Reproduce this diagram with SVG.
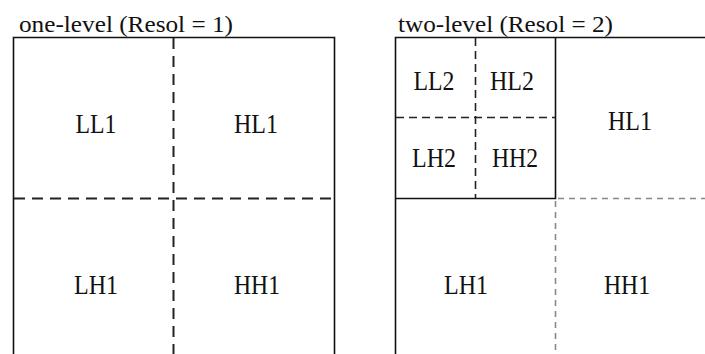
<svg xmlns="http://www.w3.org/2000/svg" width="705" height="354" viewBox="0 0 705 354">
  <style>
    .title { font-family: "Liberation Serif", "Times New Roman", serif; font-size: 23px; fill: #111; }
    .label { font-family: "Liberation Serif", "Times New Roman", serif; font-size: 28px; fill: #111; text-anchor: middle; }
    .solid { stroke: #111; stroke-width: 1.6; fill: none; }
    .dash { stroke: #222; stroke-width: 2; fill: none; stroke-dasharray: 11 7; }
    .dash-small { stroke: #222; stroke-width: 1.6; fill: none; stroke-dasharray: 8 5; }
    .dash-grey { stroke: #888; stroke-width: 1.6; fill: none; stroke-dasharray: 6 5; }
  </style>
  <rect width="705" height="354" fill="#fff"/>

  <!-- one-level decomposition -->
  <g id="one-level">
    <text class="title" x="19" y="32" textLength="214" lengthAdjust="spacingAndGlyphs">one-level (Resol = 1)</text>
    <path class="solid" d="M13.5 354 V37.5 H334.5 V354"/>
    <line class="dash" x1="173.5" y1="38" x2="173.5" y2="354"/>
    <line class="dash" x1="14" y1="198.5" x2="334" y2="198.5"/>
    <g id="ll1"><text class="label" x="96" y="133" textLength="41" lengthAdjust="spacingAndGlyphs">LL1</text></g>
    <g id="hl1a"><text class="label" x="256" y="133" textLength="44" lengthAdjust="spacingAndGlyphs">HL1</text></g>
    <g id="lh1a"><text class="label" x="96" y="294" textLength="44" lengthAdjust="spacingAndGlyphs">LH1</text></g>
    <g id="hh1a"><text class="label" x="257" y="294" textLength="46" lengthAdjust="spacingAndGlyphs">HH1</text></g>
  </g>

  <!-- two-level decomposition -->
  <g id="two-level">
    <text class="title" x="398" y="32" textLength="215" lengthAdjust="spacingAndGlyphs">two-level (Resol = 2)</text>
    <path class="solid" d="M395.5 354 V37.5 H705"/>
    <path class="solid" d="M395.5 198.5 H555.5 V37.5"/>
    <line class="dash-small" x1="475.5" y1="38" x2="475.5" y2="198"/>
    <line class="dash-small" x1="396" y1="117.5" x2="555" y2="117.5"/>
    <line class="dash-grey" x1="558" y1="198.5" x2="705" y2="198.5"/>
    <line class="dash-grey" x1="555.5" y1="201" x2="555.5" y2="354"/>
    <g id="ll2"><text class="label" x="434" y="90" textLength="41" lengthAdjust="spacingAndGlyphs">LL2</text></g>
    <g id="hl2"><text class="label" x="512" y="90" textLength="44" lengthAdjust="spacingAndGlyphs">HL2</text></g>
    <g id="lh2"><text class="label" x="434" y="167" textLength="44" lengthAdjust="spacingAndGlyphs">LH2</text></g>
    <g id="hh2"><text class="label" x="515" y="167" textLength="46" lengthAdjust="spacingAndGlyphs">HH2</text></g>
    <g id="hl1b"><text class="label" x="630" y="130" textLength="44" lengthAdjust="spacingAndGlyphs">HL1</text></g>
    <g id="lh1b"><text class="label" x="466" y="294" textLength="44" lengthAdjust="spacingAndGlyphs">LH1</text></g>
    <g id="hh1b"><text class="label" x="627" y="294" textLength="46" lengthAdjust="spacingAndGlyphs">HH1</text></g>
  </g>
</svg>
